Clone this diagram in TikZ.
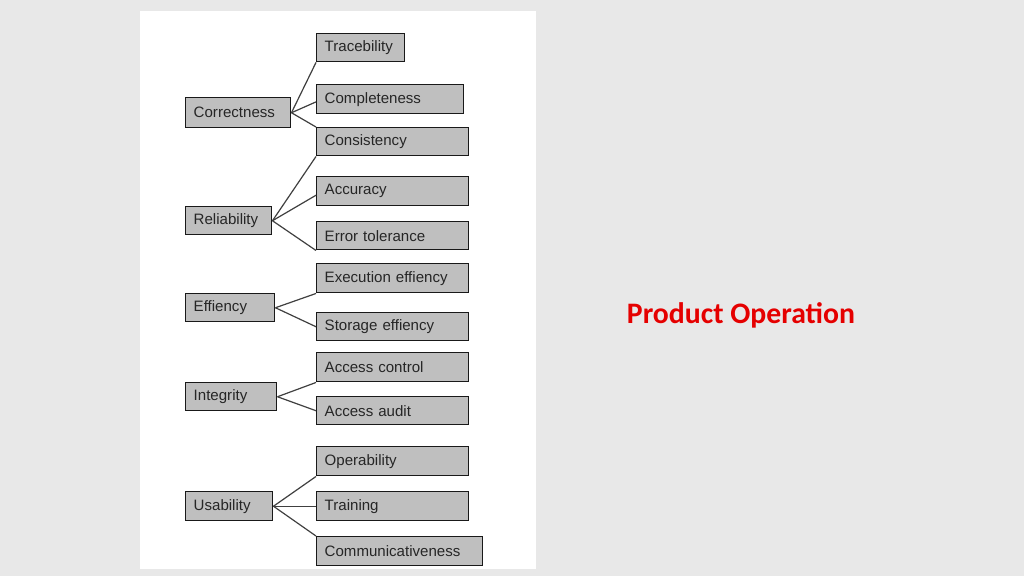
\documentclass[tikz,border=0pt]{standalone}
\usepackage{fontspec}
\setmainfont{Liberation Sans}
\newfontfamily\calib{Carlito}
\begin{document}
\begin{tikzpicture}[x=0.75pt,y=-0.75pt,
  bx/.style={draw=black!90,line width=1.1pt,fill=black!25,anchor=north west,inner xsep=0pt,inner ysep=0pt,font=\fontsize{11.3}{13}\selectfont,text=black!85,align=left},
  ln/.style={draw=black!75,line width=0.9pt}]
\fill[black!9] (0,0) rectangle (1024,576);
\fill[white] (140,11) rectangle (536,569);
\newcommand\bxx[6]{\node[bx,minimum width={(#4-#2)*0.75pt},minimum height={(#5-#3)*0.75pt},text width={(#4-#2-16)*0.75pt}] (#1) at (#2,#3) {#6};}
\bxx{tr}{316}{33}{404}{61}{Tracebility}
\bxx{cm}{316}{84}{463}{113}{Completeness}
\bxx{co}{185}{97}{290}{127}{Correctness}
\bxx{cs}{316}{127}{468}{155}{Consistency}
\bxx{ac}{316}{176}{468}{205}{Accuracy}
\bxx{re}{185}{206}{271}{234}{Reliability}
\bxx{et}{316}{221}{468}{249}{Error tolerance}
\bxx{ee}{316}{263}{468}{292}{Execution effiency}
\bxx{ef}{185}{293}{274}{321}{Effiency}
\bxx{se}{316}{312}{468}{340}{Storage effiency}
\bxx{acc}{316}{352}{468}{381}{Access control}
\bxx{in}{185}{382}{276}{410}{Integrity}
\bxx{aa}{316}{396}{468}{424}{Access audit}
\bxx{op}{316}{446}{468}{475}{Operability}
\bxx{us}{185}{491}{272}{520}{Usability}
\bxx{tg}{316}{491}{468}{520}{Training}
\bxx{cv}{316}{536}{482}{565}{Communicativeness}
\draw[ln] (co.east) -- (tr.south west);
\draw[ln] (co.east) -- ([yshift=-2pt]cm.west);
\draw[ln] (co.east) -- (cs.north west);
\draw[ln] (re.east) -- (cs.south west);
\draw[ln] (re.east) -- ([yshift=-3pt]ac.west);
\draw[ln] (re.east) -- (et.south west);
\draw[ln] (ef.east) -- (ee.south west);
\draw[ln] (ef.east) -- (se.west);
\draw[ln] (in.east) -- (acc.south west);
\draw[ln] (in.east) -- (aa.west);
\draw[ln] (us.east) -- (op.south west);
\draw[ln] (us.east) -- (tg.west);
\draw[ln] (us.east) -- (cv.north west);
\node[text=red!90!black,font=\calib\bfseries\fontsize{22.3}{26}\selectfont] (po) at (741,315) {Product Operation};
\end{tikzpicture}
\end{document}
